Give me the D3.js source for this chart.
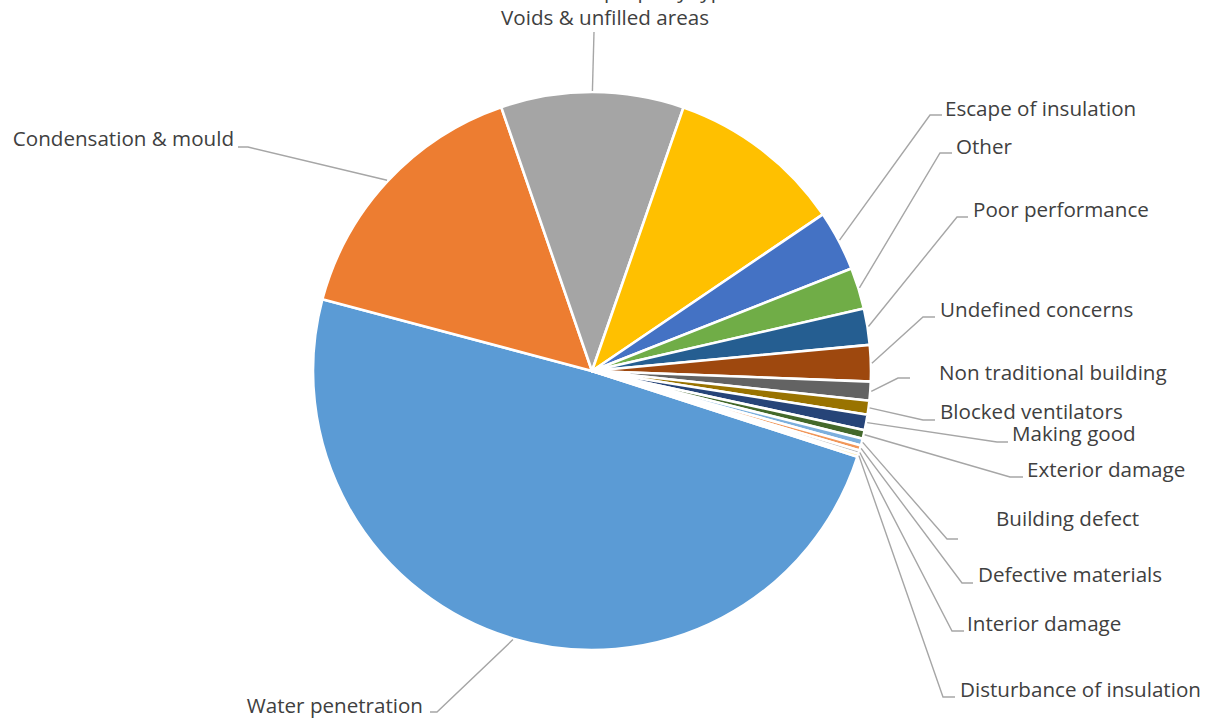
<!DOCTYPE html>
<html><head><meta charset="utf-8">
<script src="https://cdn.jsdelivr.net/npm/d3@7"></script>
<style>html,body{margin:0;padding:0;background:#fff;overflow:hidden}</style>
</head><body>
<svg id="chart" width="1214" height="718"></svg>
<script>
// ---- data ----
const categories = ["Water penetration","Condensation & mould","Voids & unfilled areas","Unsuitable property type",
  "Escape of insulation","Other","Poor performance","Undefined concerns","Non traditional building",
  "Blocked ventilators","Making good","Exterior damage","Building defect","Defective materials",
  "Interior damage","Disturbance of insulation"];
const values = [49.2,15.6,10.6,10.2,3.5,2.4,2.1,2.1,1.1,0.8,0.9,0.5,0.4,0.3,0.2,0.17];
const colors = ["#5B9BD5","#ED7D31","#A5A5A5","#FFC000","#4472C4","#70AD47","#255E91","#9E480E",
  "#636363","#997300","#264478","#43682B","#7CAFDD","#F1975A","#B7B7B7","#FFCD33"];

// ---- layout (label placement: elbow x/y, horizontal end x, text x/y, anchor) ----
const labelLayout = [
  {ex:437, ey:712, hx:430, tx:423, ty:713, anchor:"end"},
  {ex:248, ey:147, hx:238, tx:234, ty:146, anchor:"end"},
  {ex:594, ey:32,  hx:594, tx:605, ty:25,  anchor:"middle"},
  {ex:null, tx:615, ty:-2, anchor:"middle"},
  {ex:930, ey:115, hx:942, tx:945, ty:116, anchor:"start"},
  {ex:940, ey:153, hx:952, tx:956, ty:154, anchor:"start"},
  {ex:957, ey:217, hx:968, tx:973, ty:217, anchor:"start"},
  {ex:923, ey:317, hx:935, tx:940, ty:317, anchor:"start"},
  {ex:898, ey:378, hx:910, tx:939, ty:380, anchor:"start"},
  {ex:923, ey:420, hx:935, tx:940, ty:419, anchor:"start"},
  {ex:997, ey:442, hx:1008, tx:1012, ty:441, anchor:"start"},
  {ex:1010, ey:477, hx:1023, tx:1027, ty:477, anchor:"start"},
  {ex:947, ey:539, hx:958, tx:996, ty:526, anchor:"start"},
  {ex:962, ey:583, hx:973, tx:978, ty:582, anchor:"start"},
  {ex:952, ey:631, hx:964, tx:967, ty:631, anchor:"start"},
  {ex:943, ey:697, hx:955, tx:960, ty:697, anchor:"start"}
];

const cx = 592, cy = 371, R = 279;
const startDeg = 107.9;
const svg = d3.select("#chart");
const g = svg.append("g").attr("transform", `translate(${cx},${cy})`);

const data = categories.map((c,i)=>({name:c, value:values[i], color:colors[i], layout:labelLayout[i]}));
const pie = d3.pie().value(d=>d.value).sort(null)
  .startAngle(startDeg*Math.PI/180).endAngle((startDeg+360)*Math.PI/180);
const arcs = pie(data);
const arc = d3.arc().innerRadius(0).outerRadius(R);

g.selectAll("path.slice").data(arcs).join("path")
  .attr("class","slice")
  .attr("d", arc)
  .attr("fill", d=>d.data.color)
  .attr("stroke","#fff").attr("stroke-width",2.6).attr("stroke-linejoin","round");

// leader lines
const lines = svg.append("g");
arcs.forEach(a=>{
  const L = a.data.layout;
  if (L.ex === null) return;
  const mid = (a.startAngle + a.endAngle)/2;
  const sx = cx + (R+1)*Math.sin(mid), sy = cy - (R+1)*Math.cos(mid);
  const pts = [[sx,sy],[L.ex,L.ey],[L.hx,L.ey]];
  lines.append("path").attr("d", d3.line()(pts))
    .attr("fill","none").attr("stroke","#A6A6A6").attr("stroke-width",1.4);
});

// labels
svg.append("g").selectAll("text").data(arcs).join("text")
  .attr("x", d=>d.data.layout.tx).attr("y", d=>d.data.layout.ty)
  .attr("text-anchor", d=>d.data.layout.anchor)
  .attr("font-family","'Open Sans', Lato, sans-serif")
  .attr("font-size", 20.6)
  .attr("fill","#404040")
  .text(d=>d.data.name);
</script>
</body></html>
